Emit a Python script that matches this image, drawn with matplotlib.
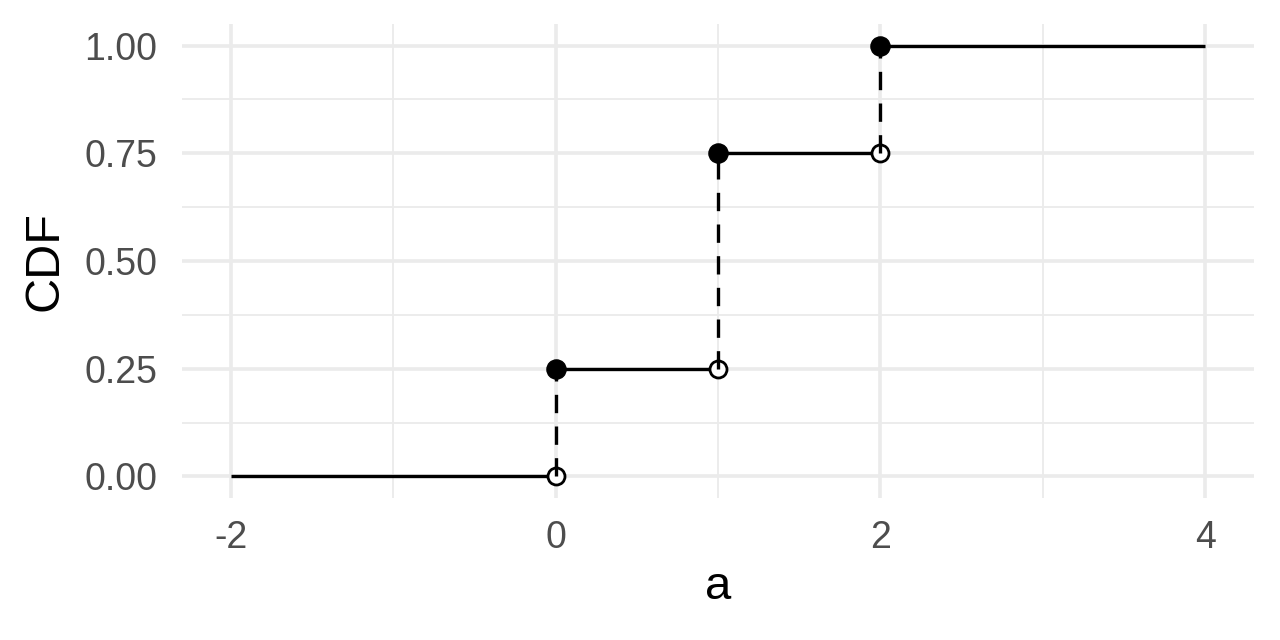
import matplotlib.pyplot as plt
import numpy as np

# step CDF data
seg_x0 = [-2, 0, 1, 2]
seg_x1 = [0, 1, 2, 4]
seg_y = [0.00, 0.25, 0.75, 1.00]

jump_x = [0, 1, 2]
jump_lo = [0.00, 0.25, 0.75]
jump_hi = [0.25, 0.75, 1.00]

xticks = [-2, 0, 2, 4]
yticks = [0.00, 0.25, 0.50, 0.75, 1.00]

plt.rcParams['font.family'] = ['Liberation Sans', 'DejaVu Sans']

fig = plt.figure(figsize=(12.8, 6.4), dpi=100)
ax = fig.add_axes([182 / 1280, 1 - 498 / 640, (1254 - 182) / 1280, (498 - 24) / 640])

ax.set_xlim(-2.3, 4.3)
ax.set_ylim(-0.05, 1.05)

# ggplot-like minimal grid
for v in [-1, 1, 3]:
    ax.axvline(v, color='#EBEBEB', lw=1.3, zorder=0)
for v in [0.125, 0.375, 0.625, 0.875]:
    ax.axhline(v, color='#EBEBEB', lw=1.3, zorder=0)
for v in xticks:
    ax.axvline(v, color='#EBEBEB', lw=2.6, zorder=0)
for v in yticks:
    ax.axhline(v, color='#EBEBEB', lw=2.6, zorder=0)

ax.hlines(seg_y, seg_x0, seg_x1, color='black', lw=2.4, zorder=2)
ax.scatter(jump_x, jump_lo, s=150, facecolors='white', edgecolors='black', linewidths=2.0, zorder=3)
ax.vlines(jump_x, jump_lo, jump_hi, color='black', lw=2.4, linestyles=(0, (5.5, 4)), zorder=4)
ax.scatter(jump_x, jump_hi, s=190, color='black', zorder=5)

ax.set_xticks(xticks)
ax.set_xticklabels(['-2', '0', '2', '4'])
ax.set_yticks(yticks)
ax.set_yticklabels(['0.00', '0.25', '0.50', '0.75', '1.00'])
ax.tick_params(axis='both', length=0, labelsize=27, labelcolor='#4D4D4D')
ax.tick_params(axis='y', pad=18)
ax.tick_params(axis='x', pad=16)
for s in ax.spines.values():
    s.set_visible(False)

ax.set_xlabel('a', fontsize=34, labelpad=6)
ax.set_ylabel('CDF', fontsize=35, labelpad=12)

fig.savefig('out.png', dpi=100, facecolor='white')
